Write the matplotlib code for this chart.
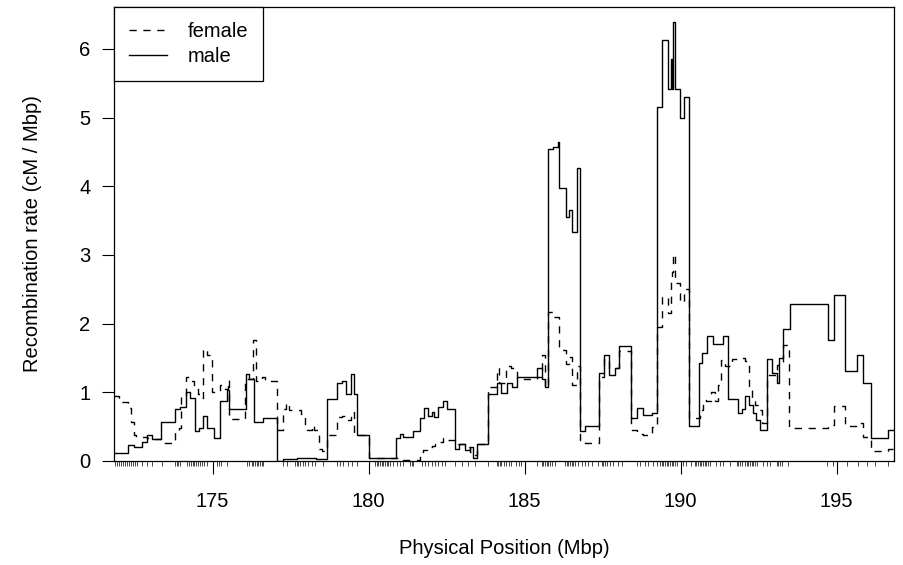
import numpy as np
import matplotlib
matplotlib.use("Agg")
import matplotlib.pyplot as plt

plt.rcParams['font.family'] = ['Liberation Sans', 'DejaVu Sans']

############## Data ######################################
x_start, x_end = 171.84, 196.84

male_pos = [171.84, 172.29, 172.47, 172.74, 172.90, 173.06, 173.36, 173.79, 173.97, 174.15,
            174.28, 174.43, 174.57, 174.68, 174.82, 175.04, 175.25, 175.46, 175.54, 176.07,
            176.18, 176.33, 176.61, 177.06, 177.26, 177.70, 178.32, 178.68, 178.98, 179.14,
            179.28, 179.43, 179.54, 179.64, 180.02, 180.88, 181.01, 181.11, 181.43, 181.65,
            181.78, 181.92, 182.02, 182.11, 182.24, 182.38, 182.51, 182.77, 182.91, 183.09,
            183.25, 183.34, 183.46, 183.84, 184.12, 184.23, 184.43, 184.59, 184.77, 185.40,
            185.56, 185.66, 185.76, 185.91, 186.07, 186.09, 186.34, 186.41, 186.52, 186.67,
            186.78, 186.94, 187.37, 187.55, 187.72, 187.90, 188.04, 188.40, 188.61, 188.81,
            189.07, 189.23, 189.39, 189.61, 189.68, 189.73, 189.77, 189.82, 189.98, 190.12,
            190.28, 190.60, 190.68, 190.84, 191.05, 191.37, 191.53, 191.85, 191.96, 192.06,
            192.20, 192.33, 192.43, 192.55, 192.76, 192.92, 193.10, 193.16, 193.27, 193.51,
            194.73, 194.93, 195.27, 195.66, 195.86, 196.09, 196.66]
male_rate = [0.11, 0.23, 0.20, 0.28, 0.38, 0.32, 0.57, 0.75, 0.79, 1.01,
             0.91, 0.43, 0.48, 0.66, 0.48, 0.33, 0.88, 1.03, 0.75, 1.26,
             1.20, 0.57, 0.62, 0.00, 0.03, 0.04, 0.03, 0.90, 1.14, 1.17,
             0.98, 1.26, 0.98, 0.38, 0.05, 0.34, 0.39, 0.35, 0.43, 0.62,
             0.77, 0.66, 0.72, 0.64, 0.78, 0.88, 0.75, 0.17, 0.25, 0.16,
             0.20, 0.05, 0.25, 0.98, 1.13, 0.99, 1.13, 1.08, 1.22, 1.35,
             1.20, 1.08, 4.54, 4.57, 4.65, 3.97, 3.55, 3.65, 3.34, 4.26,
             0.44, 0.51, 1.28, 1.54, 1.25, 1.36, 1.67, 0.62, 0.77, 0.67,
             0.70, 5.16, 6.13, 5.41, 5.86, 5.41, 6.39, 5.41, 4.99, 5.30,
             0.51, 1.42, 1.57, 1.82, 1.71, 1.82, 0.90, 0.70, 0.76, 0.95,
             0.82, 0.70, 0.60, 0.45, 1.48, 1.28, 1.14, 1.50, 1.92, 2.28,
             1.76, 2.42, 1.31, 1.54, 1.13, 0.34, 0.45]

female_pos = [171.84, 172.00, 172.29, 172.39, 172.48, 172.56, 172.90, 173.06, 173.36, 173.81,
              173.92, 174.00, 174.15, 174.28, 174.39, 174.53, 174.60, 174.68, 174.81, 174.97,
              175.10, 175.25, 175.41, 175.50, 175.54, 176.04, 176.30, 176.39, 176.57, 176.68,
              177.06, 177.25, 177.34, 177.46, 177.84, 177.95, 178.04, 178.20, 178.25, 178.41,
              178.52, 178.68, 178.98, 179.14, 179.28, 179.43, 179.54, 180.02, 181.11, 181.65,
              181.75, 181.88, 182.02, 182.13, 182.24, 182.38, 182.51, 182.77, 182.88, 183.09,
              183.25, 183.41, 183.49, 183.84, 184.12, 184.18, 184.41, 184.57, 184.77, 185.40,
              185.56, 185.66, 185.76, 185.91, 186.09, 186.34, 186.41, 186.52, 186.67, 186.78,
              186.94, 187.37, 187.55, 187.72, 188.04, 188.40, 188.61, 188.81, 189.07, 189.23,
              189.39, 189.61, 189.68, 189.73, 189.77, 189.82, 189.98, 190.12, 190.28, 190.62,
              190.72, 190.83, 190.99, 191.10, 191.21, 191.31, 191.42, 191.64, 191.85, 192.06,
              192.20, 192.28, 192.39, 192.50, 192.61, 192.76, 193.10, 193.27, 193.49, 194.73,
              194.93, 195.27, 195.66, 195.86, 196.09, 196.66]
female_rate = [0.94, 0.86, 0.77, 0.57, 0.38, 0.35, 0.33, 0.32, 0.26, 0.43,
               0.48, 0.94, 1.23, 1.16, 1.06, 0.97, 0.92, 1.63, 1.54, 1.01,
               1.00, 1.11, 1.05, 1.18, 0.61, 1.20, 1.76, 1.17, 1.23, 1.17,
               0.45, 0.75, 0.85, 0.74, 0.69, 0.51, 0.45, 0.52, 0.45, 0.17,
               0.15, 0.38, 0.64, 0.66, 0.59, 0.72, 0.38, 0.04, 0.01, 0.11,
               0.16, 0.20, 0.22, 0.25, 0.28, 0.34, 0.30, 0.27, 0.25, 0.20,
               0.13, 0.08, 0.25, 1.08, 1.35, 1.13, 1.38, 1.35, 1.20, 1.23,
               1.54, 1.08, 2.17, 2.09, 1.62, 1.41, 1.52, 1.11, 1.38, 0.30,
               0.26, 1.23, 1.49, 1.36, 1.60, 0.45, 0.40, 0.38, 0.50, 1.95,
               2.39, 2.15, 2.61, 2.75, 3.02, 2.59, 2.32, 2.50, 0.62, 0.74,
               0.89, 0.87, 1.01, 0.87, 1.11, 1.47, 1.38, 1.48, 1.50, 1.46,
               1.08, 0.87, 0.82, 0.74, 0.55, 1.25, 1.40, 1.69, 0.48, 0.53,
               0.80, 0.51, 0.55, 0.35, 0.14, 0.17]

# marker positions (rug under the x axis)
markers = [171.87, 171.94, 172.00, 172.06, 172.13, 172.19, 172.26, 172.32, 172.38, 172.45,
           172.51, 172.58, 172.74, 172.89, 173.05, 173.37, 173.80, 173.85, 173.90, 173.96,
           174.17, 174.23, 174.30, 174.36, 174.40, 174.47, 174.53, 174.60, 174.66, 174.72,
           174.81, 175.13, 175.20, 175.26, 175.45, 176.09, 176.18, 176.25, 176.31, 176.36,
           176.41, 176.47, 176.52, 176.57, 176.63, 177.27, 177.38, 177.64, 177.70, 177.75,
           177.80, 177.89, 177.96, 178.07, 178.18, 178.28, 178.55, 178.98, 179.08, 179.19,
           179.35, 179.46, 179.62, 180.21, 180.26, 180.31, 180.37, 180.42, 180.47, 180.53,
           180.58, 180.63, 180.69, 180.79, 180.90, 181.01, 181.11, 181.33, 181.38, 181.43,
           181.70, 181.81, 181.91, 182.02, 182.13, 182.23, 182.34, 182.45, 182.77, 182.98,
           183.20, 183.41, 183.84, 184.11, 184.16, 184.21, 184.26, 184.34, 184.42, 184.51,
           184.58, 184.74, 184.83, 184.90, 185.39, 185.55, 185.60, 185.65, 185.71, 185.76,
           185.81, 185.87, 185.97, 186.29, 186.35, 186.40, 186.45, 186.51, 186.56, 186.61,
           186.72, 186.83, 186.93, 187.04, 187.15, 187.36, 187.47, 187.52, 187.58, 187.63,
           187.74, 187.84, 188.00, 188.11, 188.59, 188.70, 188.86, 188.96, 189.12, 189.23,
           189.34, 189.39, 189.44, 189.50, 189.55, 189.60, 189.66, 189.71, 189.77, 189.82,
           189.87, 190.09, 190.19, 190.35, 190.46, 190.51, 190.57, 190.62, 190.67, 190.73,
           190.78, 190.83, 190.89, 190.94, 191.15, 191.26, 191.37, 191.58, 191.80, 191.85,
           191.90, 191.96, 192.06, 192.12, 192.17, 192.22, 192.28, 192.33, 192.38, 192.44,
           192.65, 192.76, 192.86, 193.08, 193.13, 193.18, 193.24, 193.45, 194.68, 194.89,
           195.32, 195.69, 195.96, 196.23, 196.66]

x_ticks = [175, 180, 185, 190, 195]
y_ticks = [0, 1, 2, 3, 4, 5, 6]

#################### Plot ####################
fig = plt.figure(figsize=(9.04, 5.65), dpi=100)
ax = fig.add_axes([0.1261, 0.1841, 0.8628, 0.8035])

ax.step(female_pos + [x_end], female_rate + [female_rate[-1]], where='post',
        color='black', lw=1.0, linestyle=(0, (5.2, 4.8)), label='female')
ax.step(male_pos + [x_end], male_rate + [male_rate[-1]], where='post',
        color='black', lw=1.0, label='male')

ax.set_xlim(x_start, x_end)
ax.set_ylim(0, 6.61)

ax.set_xticks(x_ticks)
ax.set_xticks(markers, minor=True)
ax.set_yticks(y_ticks)
ax.tick_params(axis='both', which='major', length=9, width=0.8, labelsize=14.5, pad=8, direction='out')
ax.tick_params(axis='x', which='major', pad=13.5)
ax.tick_params(axis='x', which='minor', length=3.5, width=0.5, direction='out')
for s in ax.spines.values():
    s.set_linewidth(0.9)

ax.set_xlabel('Physical Position (Mbp)', fontsize=14.5, labelpad=20)
ax.set_ylabel('Recombination rate (cM / Mbp)', fontsize=14.5, labelpad=27)

leg = ax.legend(loc='upper left', fontsize=14.5, frameon=True, fancybox=False,
                edgecolor='black', framealpha=1, borderaxespad=0, borderpad=0.75,
                handlelength=1.9, handletextpad=1.0, labelspacing=0.3)
leg.get_frame().set_linewidth(0.9)

fig.savefig('out.png', dpi=100)
